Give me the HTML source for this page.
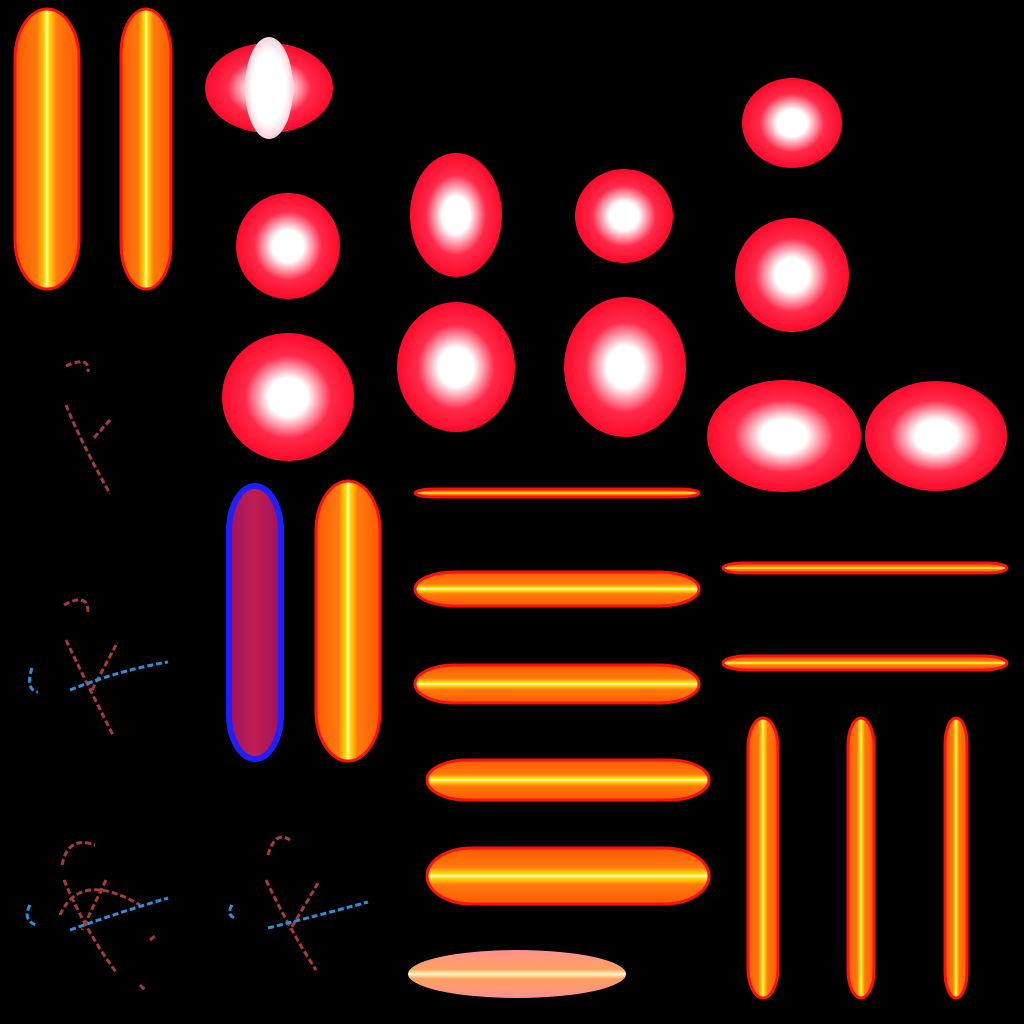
<!DOCTYPE html>
<html><head><meta charset="utf-8"><style>
html,body{margin:0;padding:0;background:#000;width:1024px;height:1024px;overflow:hidden}
svg{display:block}
</style></head><body>
<svg width="1024" height="1024" viewBox="0 0 1024 1024" xmlns="http://www.w3.org/2000/svg">
<defs>
<radialGradient id="rb"><stop offset="0" stop-color="#fff"/><stop offset="0.3" stop-color="#fff"/><stop offset="0.65" stop-color="#ff2a4a"/><stop offset="1" stop-color="#ff0a2a"/></radialGradient>
<radialGradient id="rb2"><stop offset="0" stop-color="#fff"/><stop offset="0.7" stop-color="#fff"/><stop offset="1" stop-color="#ffd0d8"/></radialGradient>
<linearGradient id="ov" x1="0" x2="1" y1="0" y2="0"><stop offset="0" stop-color="#ff5a00"/><stop offset="0.35" stop-color="#ff7a10"/><stop offset="0.47" stop-color="#ffe000"/><stop offset="0.5" stop-color="#fffbe0"/><stop offset="0.53" stop-color="#ffe000"/><stop offset="0.65" stop-color="#ff7a10"/><stop offset="1" stop-color="#ff5a00"/></linearGradient>
<linearGradient id="oh" x1="0" x2="0" y1="0" y2="1"><stop offset="0" stop-color="#ff5a00"/><stop offset="0.35" stop-color="#ff7a10"/><stop offset="0.46" stop-color="#ffe000"/><stop offset="0.5" stop-color="#fffbe0"/><stop offset="0.54" stop-color="#ffe000"/><stop offset="0.65" stop-color="#ff7a10"/><stop offset="1" stop-color="#ff5a00"/></linearGradient>
<linearGradient id="bv" x1="0" x2="1"><stop offset="0" stop-color="#a01060"/><stop offset="0.5" stop-color="#c02050"/><stop offset="1" stop-color="#a01060"/></linearGradient>
<linearGradient id="ph" x1="0" x2="0" y1="0" y2="1"><stop offset="0" stop-color="#ff9090"/><stop offset="0.4" stop-color="#ffa060"/><stop offset="0.5" stop-color="#fff8c0"/><stop offset="0.6" stop-color="#ffa060"/><stop offset="1" stop-color="#ff9090"/></linearGradient>
</defs>
<g fill="url(#ov)" stroke="#ff1010" stroke-width="3">
<rect x="15" y="9" width="64" height="280" rx="32" ry="50"/>
<rect x="121" y="9" width="50" height="280" rx="25" ry="45"/>
<rect x="316" y="481" width="64" height="280" rx="32" ry="50"/>
<rect x="748" y="718" width="30" height="280" rx="15" ry="30"/>
<rect x="848" y="718" width="26" height="280" rx="13" ry="28"/>
<rect x="945" y="718" width="22" height="280" rx="11" ry="26"/>
</g>
<rect x="229" y="486" width="52" height="273" rx="26" ry="45" fill="url(#bv)" stroke="#2020ff" stroke-width="6"/>
<g fill="url(#oh)" stroke="#ff1010" stroke-width="3">
<rect x="415" y="489" width="284" height="8" rx="20" ry="4"/>
<rect x="415" y="572" width="284" height="34" rx="40" ry="17"/>
<rect x="415" y="665" width="284" height="38" rx="40" ry="19"/>
<rect x="427" y="760" width="282" height="40" rx="40" ry="20"/>
<rect x="427" y="848" width="282" height="56" rx="45" ry="28"/>
<rect x="723" y="563" width="284" height="10" rx="20" ry="5"/>
<rect x="723" y="656" width="284" height="14" rx="25" ry="7"/>
</g>
<ellipse cx="517" cy="974" rx="109" ry="24" fill="url(#ph)"/>
<g fill="url(#rb)">
<ellipse cx="269" cy="88" rx="64" ry="45"/>
<ellipse cx="269" cy="88" rx="24" ry="51" fill="url(#rb2)"/>
<ellipse cx="792" cy="123" rx="50" ry="45"/>
<ellipse cx="288" cy="246" rx="52" ry="53"/>
<ellipse cx="456" cy="215" rx="46" ry="62"/>
<ellipse cx="624" cy="216" rx="49" ry="47"/>
<ellipse cx="792" cy="275" rx="57" ry="57"/>
<ellipse cx="288" cy="397" rx="66" ry="64"/>
<ellipse cx="456" cy="367" rx="59" ry="65"/>
<ellipse cx="625" cy="367" rx="61" ry="70"/>
<ellipse cx="784" cy="436" rx="77" ry="56"/>
<ellipse cx="936" cy="436" rx="71" ry="55"/>
</g>
<g fill="none" stroke-width="3" stroke-dasharray="6 3">
<g stroke="#a83a3a">
<path d="M66 366 Q90 355 88 372 M66 405 Q80 440 110 494 M110 420 L92 440"/>
<path d="M64 605 Q88 592 88 612 M66 640 Q85 680 113 735 M116 645 L92 690"/>
<path d="M62 865 Q68 835 95 845 M64 880 Q85 930 116 972 M60 915 Q80 870 140 905 M106 880 L82 930 M150 940 L156 935 M140 985 L145 990"/>
<path d="M268 855 Q275 830 290 840 M266 880 Q290 930 316 970 M318 883 L290 930"/>
</g>
<g stroke="#2a90d8">
<path d="M32 668 Q25 690 38 692 M70 690 Q120 670 168 662"/>
<path d="M30 905 Q22 920 36 925 M70 930 Q120 912 168 898"/>
<path d="M232 905 Q226 915 235 918 M268 928 Q320 915 368 902"/>
</g>
</g>
</svg>
</body></html>
